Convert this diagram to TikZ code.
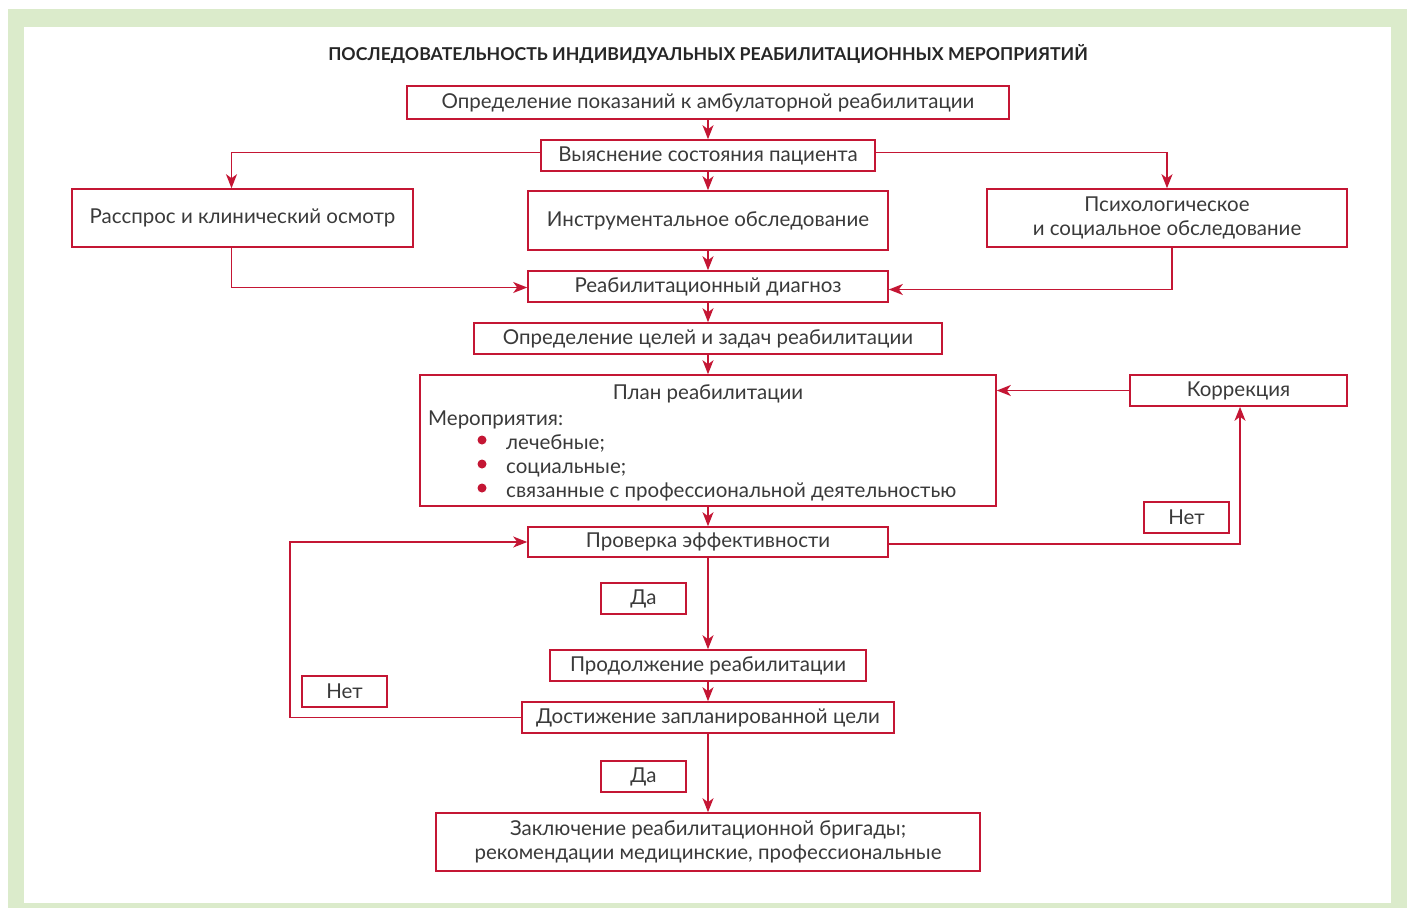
\documentclass[tikz,border=0pt]{standalone}
\usepackage{fontspec}
\setmainfont{Lato}
\usepackage{tikz}
\usetikzlibrary{arrows.meta, positioning}

\definecolor{rehab}{RGB}{196,22,52}
\definecolor{frame}{RGB}{219,235,203}
\definecolor{txt}{RGB}{58,58,58}

\tikzset{
  box/.style={draw=rehab, line width=1.6pt, fill=white, minimum height=31, inner sep=0pt,
    align=center, text=txt, font=\fontsize{20.5}{24}\selectfont},
  tag/.style={box, minimum width=85},
  listtext/.style={text=txt, font=\fontsize{20.5}{24}\selectfont, anchor=base west, inner sep=0pt},
  link/.style={draw=rehab, line width=1.6pt, -{Stealth[length=14pt,width=11pt,inset=4pt]}},
}

\begin{document}
\begin{tikzpicture}[x=1pt,y=-1pt]
  \useasboundingbox (0,0) rectangle (1407,908);
  % frame
  \fill[frame] (8,9) rectangle (1407,908);
  \fill[white] (24,27) rectangle (1391,903);
  \node[text=black!85, font=\bfseries\fontsize{17.7}{20}\selectfont] (title) at (708,54)
    {ПОСЛЕДОВАТЕЛЬНОСТЬ ИНДИВИДУАЛЬНЫХ РЕАБИЛИТАЦИОННЫХ МЕРОПРИЯТИЙ};
  % main column
  \node[box, minimum width=602, minimum height=33] (indic) at (708,102.5)
    {Определение показаний к амбулаторной реабилитации};
  \node[box, minimum width=334] (state) at (708,155.5) {Выяснение состояния пациента};
  \node[box, minimum width=341, minimum height=58] (ask) at (242.5,218) {Расспрос и клинический осмотр};
  \node[box, minimum width=360, minimum height=59] (instr) at (708,220.5) {Инструментальное обследование};
  \node[box, minimum width=360, minimum height=58] (psy) at (1167,218)
    {Психологическое\\и социальное обследование};
  \node[box, minimum width=360] (diag) at (708,286.5) {Реабилитационный диагноз};
  \node[box, minimum width=468] (goals) at (708,338.5) {Определение целей и задач реабилитации};
  % plan
  \node[box, minimum width=576, minimum height=131] (plan) at (708,440.5) {};
  \node[text=txt, font=\fontsize{20.5}{24}\selectfont] (plantitle) at (708,394) {План реабилитации};
  \node[listtext] (measures) at (428,425) {Мероприятия:};
  \foreach \y/\t [count=\i] in {449/лечебные;, 473/социальные;, 497/связанные с профессиональной деятельностью} {
    \fill[rehab] (482,\y-9) circle (4.5);
    \node[listtext] (item\i) at (506,\y) {\t};
  }
  \node[box, minimum width=217] (corr) at (1238.5,390.5) {Коррекция};
  \node[box, minimum width=360, minimum height=30] (check) at (708,542) {Проверка эффективности};
  \node[box, minimum width=316] (cont) at (708,665.5) {Продолжение реабилитации};
  \node[box, minimum width=372] (goal) at (708,717.5) {Достижение запланированной цели};
  \node[box, minimum width=544, minimum height=58] (final) at (708,842)
    {Заключение реабилитационной бригады;\\рекомендации медицинские, профессиональные};
  % yes / no labels
  \node[tag, line width=1.2pt] (no1) at (1186.5,517.5) {Нет};
  \node[tag, line width=1.2pt] (yes1) at (643.5,598.5) {Да};
  \node[tag, line width=1.2pt] (no2) at (344.5,691.5) {Нет};
  \node[tag, line width=1.2pt] (yes2) at (643.5,776.5) {Да};
  % connectors
  \draw[link] (indic) -- (state);
  \draw[link] ([yshift=3pt]state.west) -| ([xshift=-11pt]ask.north);
  \draw[link] ([yshift=3pt]state.east) -| (psy.north);
  \draw[link] (state) -- (instr);
  \draw[link] (instr) -- (diag);
  \draw[link] ([xshift=-11pt]ask.south) |- ([yshift=-1pt]diag.west);
  \draw[link] ([xshift=5pt]psy.south) |- ([yshift=-3pt]diag.east);
  \draw[link] (diag) -- (goals);
  \draw[link] (goals) -- (plan);
  \draw[link] (plan) -- (check);
  \draw[link] (corr.west) -- (corr.west -| plan.east);
  \draw[link] ([yshift=-2pt]check.east) -| ([xshift=1.5pt]corr.south);
  \draw[link] (check) -- (cont);
  \draw[link] (cont) -- (goal);
  \draw[link] (goal.west) -- ++(-231,0) |- (check.west);
  \draw[link] (goal) -- (final);
\end{tikzpicture}
\end{document}
